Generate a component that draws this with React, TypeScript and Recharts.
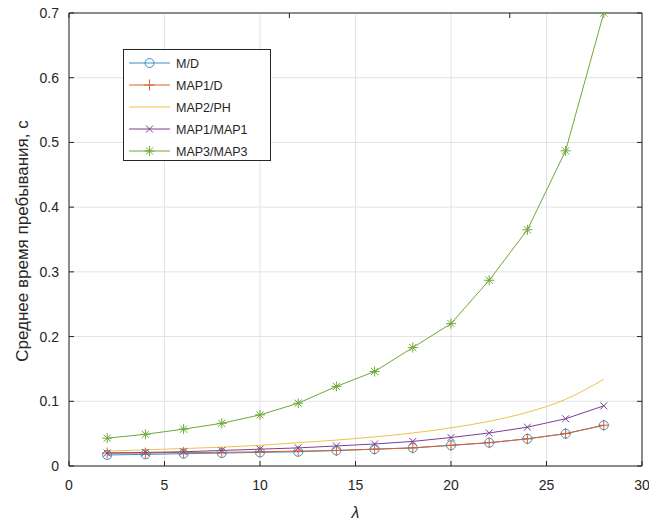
import React from 'react';
import { LineChart, Line, XAxis, YAxis, CartesianGrid, Legend } from 'recharts';

const lambdaValues = [2, 4, 6, 8, 10, 12, 14, 16, 18, 20, 22, 24, 26, 28];
const mdValues = [0.017, 0.018, 0.019, 0.02, 0.021, 0.022, 0.024, 0.026, 0.028, 0.032, 0.036, 0.042, 0.05, 0.063];
const map1dValues = [0.02, 0.02, 0.021, 0.021, 0.022, 0.023, 0.024, 0.026, 0.028, 0.032, 0.036, 0.042, 0.05, 0.063];
const map2phValues = [0.023, 0.025, 0.027, 0.029, 0.032, 0.036, 0.04, 0.045, 0.051, 0.059, 0.069, 0.083, 0.103, 0.134];
const map1map1Values = [0.02, 0.021, 0.022, 0.024, 0.026, 0.028, 0.031, 0.034, 0.038, 0.044, 0.051, 0.06, 0.073, 0.093];
const map3map3Values = [0.043, 0.049, 0.057, 0.066, 0.079, 0.097, 0.123, 0.146, 0.183, 0.22, 0.287, 0.365, 0.487, 0.7];

const xTicks = [0, 5, 10, 15, 20, 25, 30];
const yTicks = [0, 0.1, 0.2, 0.3, 0.4, 0.5, 0.6, 0.7];
const yTickLabels = ['0', '0.1', '0.2', '0.3', '0.4', '0.5', '0.6', '0.7'];

const seriesNames = ['M/D', 'MAP1/D', 'MAP2/PH', 'MAP1/MAP1', 'MAP3/MAP3'];
const seriesKeys = ['md', 'map1d', 'map2ph', 'map1map1', 'map3map3'];
const seriesValues = [mdValues, map1dValues, map2phValues, map1map1Values, map3map3Values];
const seriesColors = ['#3b8fc4', '#d9622e', '#eec24a', '#7e3f90', '#6fa838'];
const seriesMarkers = ['circle', 'plus', 'none', 'cross', 'star'];

const data = lambdaValues.map((x, i) => {
  const row: any = { x };
  seriesKeys.forEach((k, j) => {
    row[k] = seriesValues[j][i];
  });
  return row;
});

const FONT = '"Liberation Sans", Arial, Helvetica, sans-serif';
const AXIS = '#262626';

function Marker({ shape, cx, cy, color }: any) {
  if (cx == null || cy == null || shape === 'none') return <g />;
  if (shape === 'circle') {
    return <circle cx={cx} cy={cy} r={4.5} fill="none" stroke={color} strokeWidth={1} />;
  }
  if (shape === 'plus') {
    const s = 5.5;
    return (
      <g stroke={color} strokeWidth={1}>
        <line x1={cx - s} x2={cx + s} y1={cy} y2={cy} />
        <line x1={cx} x2={cx} y1={cy - s} y2={cy + s} />
      </g>
    );
  }
  if (shape === 'cross') {
    const s = 3.5;
    return (
      <g stroke={color} strokeWidth={1}>
        <line x1={cx - s} x2={cx + s} y1={cy - s} y2={cy + s} />
        <line x1={cx - s} x2={cx + s} y1={cy + s} y2={cy - s} />
      </g>
    );
  }
  const s = 5;
  const d = 3.6;
  return (
    <g stroke={color} strokeWidth={1}>
      <line x1={cx - s} x2={cx + s} y1={cy} y2={cy} />
      <line x1={cx} x2={cx} y1={cy - s} y2={cy + s} />
      <line x1={cx - d} x2={cx + d} y1={cy - d} y2={cy + d} />
      <line x1={cx - d} x2={cx + d} y1={cy + d} y2={cy - d} />
    </g>
  );
}

const LegendBox = () => (
  <svg width={149} height={113} style={{ display: 'block' }}>
    <rect x={0.5} y={0.5} width={147} height={111} fill="#fff" stroke={AXIS} strokeWidth={1} />
    {seriesNames.map((name, i) => {
      const y = 14 + i * 22;
      return (
        <g key={name}>
          <line x1={6} x2={47} y1={y} y2={y} stroke={seriesColors[i]} strokeWidth={1} />
          <Marker shape={seriesMarkers[i]} cx={26.5} cy={y} color={seriesColors[i]} />
          <text x={53} y={y} dy="0.36em" fontSize={12.5} fontFamily={FONT} fill={AXIS}>
            {name}
          </text>
        </g>
      );
    })}
  </svg>
);

const emptyTick = () => <g />;

export default function App() {
  return (
    <div style={{ position: 'absolute', left: 0, top: 0, background: '#fff' }}>
      <LineChart
        width={649}
        height={522}
        data={data}
        margin={{ top: 12, right: 6, bottom: 16, left: 8 }}
        style={{ fontFamily: FONT }}
      >
        <CartesianGrid stroke="#e3e3e3" strokeWidth={1} />
        <XAxis
          dataKey="x"
          type="number"
          domain={[0, 30]}
          ticks={xTicks}
          allowDataOverflow
          height={40}
          stroke={AXIS}
          tickSize={-5}
          tickMargin={19}
          tick={{ fill: AXIS, fontSize: 14, fontFamily: FONT }}
          label={{
            content: (props: any) => {
              const vb = props.viewBox || {};
              return (
                <text
                  x={vb.x + vb.width / 2}
                  y={512}
                  dy="0.35em"
                  textAnchor="middle"
                  fontSize={16}
                  fontStyle="italic"
                  fontFamily={FONT}
                  fill={AXIS}
                >
                  λ
                </text>
              );
            },
          }}
        />
        <XAxis
          xAxisId="top"
          orientation="top"
          type="number"
          domain={[0, 30]}
          ticks={xTicks}
          allowDataOverflow
          height={1}
          stroke={AXIS}
          tickSize={-5}
          tick={emptyTick}
        />
        <YAxis
          type="number"
          domain={[0, 0.7]}
          ticks={yTicks}
          allowDataOverflow
          width={61}
          stroke={AXIS}
          tickSize={-5}
          tickMargin={15}
          tickFormatter={(v: number) => yTickLabels[yTicks.indexOf(v)] ?? String(v)}
          tick={{ fill: AXIS, fontSize: 14, fontFamily: FONT }}
          label={{
            content: () => (
              <text
                transform="translate(22,241) rotate(-90)"
                textAnchor="middle"
                dy="0.35em"
                fontSize={17}
                fontFamily={FONT}
                fill={AXIS}
              >
                Среднее время пребывания, с
              </text>
            ),
          }}
        />
        <YAxis
          yAxisId="right"
          orientation="right"
          type="number"
          domain={[0, 0.7]}
          ticks={yTicks}
          allowDataOverflow
          width={1}
          stroke={AXIS}
          tickSize={-5}
          tick={emptyTick}
        />
        {seriesKeys.map((k, i) => (
          <Line
            key={k}
            dataKey={k}
            name={seriesNames[i]}
            type={k === 'map2ph' ? 'monotone' : 'linear'}
            stroke={seriesColors[i]}
            strokeWidth={1}
            isAnimationActive={false}
            dot={(p: any) => (
              <Marker key={`${k}-${p.index}`} shape={seriesMarkers[i]} cx={p.cx} cy={p.cy} color={seriesColors[i]} />
            )}
            activeDot={false}
          />
        ))}
        <Legend
          layout="vertical"
          align="center"
          verticalAlign="middle"
          wrapperStyle={{ left: 123, top: 49, width: 149, height: 113 }}
          content={() => <LegendBox />}
        />
      </LineChart>
    </div>
  );
}
